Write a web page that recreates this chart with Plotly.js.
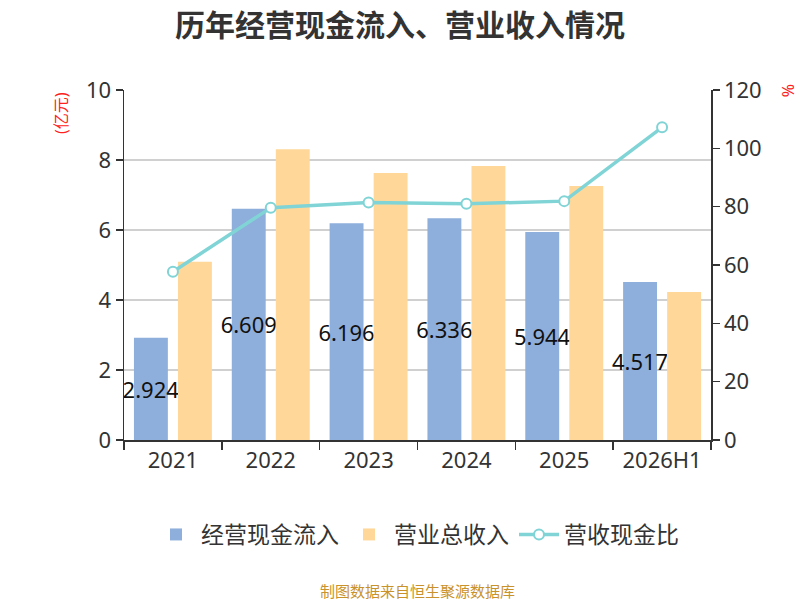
<!DOCTYPE html>
<html>
<head>
<meta charset="utf-8">
<script src="https://cdn.plot.ly/plotly-3.0.1.min.js"></script>
<style>
  body { margin: 0; background: #fff; }
  #chart { width: 800px; height: 600px; }
</style>
</head>
<body>
<div id="chart"></div>
<script>
// values
var years = ['2021', '2022', '2023', '2024', '2025', '2026H1'];
var cashIn = [2.924, 6.609, 6.196, 6.336, 5.944, 4.517];     // 亿元
var revenue = [5.09, 8.31, 7.63, 7.83, 7.26, 4.23];          // 亿元
var ratio = [57.7, 79.6, 81.4, 81.0, 81.9, 107.2];           // %

var blue = '#8eaedb';
var orange = '#ffd899';
var teal = '#80d4d6';
var fontFam = '"Noto Sans", "Noto Sans CJK SC", sans-serif';

var cashTrace = {
    x: years, y: cashIn,
    name: '经营现金流入',
    type: 'bar',
    marker: {color: blue},
    text: cashIn.map(function (v) { return v.toFixed(3) }),
    textposition: 'inside',
    insidetextanchor: 'middle',
    constraintext: 'none',
    textangle: 0,
    insidetextfont: {size: 22, color: '#111', family: fontFam},
    hoverinfo: 'none'
};

var revTrace = {
    x: years, y: revenue,
    name: '营业总收入',
    type: 'bar',
    marker: {color: orange},
    hoverinfo: 'none'
};

var ratioTrace = {
    x: years, y: ratio,
    name: '营收现金比',
    type: 'scatter',
    mode: 'lines+markers',
    yaxis: 'y2',
    line: {color: teal, width: 3.5},
    marker: {color: '#fff', size: 10, line: {color: teal, width: 2}},
    hoverinfo: 'none'
};

var layout = {
    width: 800, height: 600,
    margin: {l: 124, r: 89, t: 90, b: 160},
    paper_bgcolor: '#fff', plot_bgcolor: '#fff',
    font: {family: fontFam, color: '#333'},
    title: {
        text: '<b>历年经营现金流入、营业收入情况</b>',
        font: {size: 30, color: '#333', family: '"Noto Sans CJK SC", sans-serif'},
        x: 0.5, xanchor: 'center', y: 0.958, yanchor: 'middle'
    },
    barmode: 'group',
    bargap: 0.1,
    bargroupgap: 0.23,
    showlegend: true,
    legend: {
        orientation: 'h', x: 0.5, xanchor: 'center', y: -0.27, yanchor: 'middle',
        font: {size: 23, color: '#333'},
        itemwidth: 40
    },
    xaxis: {
        type: 'category',
        showline: true, linecolor: '#333', linewidth: 1.5,
        ticks: 'outside', tickson: 'boundaries', ticklen: 8, tickcolor: '#333', tickwidth: 1.5,
        tickfont: {size: 22, color: '#333'},
        showgrid: false
    },
    yaxis: {
        range: [0, 10], dtick: 2,
        showline: true, linecolor: '#333', linewidth: 1.5,
        ticks: 'outside', ticklen: 7, tickcolor: '#333', tickwidth: 1.5,
        tickfont: {size: 22, color: '#333'},
        gridcolor: '#d0d0d0', gridwidth: 1.5,
        zeroline: false
    },
    yaxis2: {
        overlaying: 'y', side: 'right',
        range: [0, 120], dtick: 20,
        showline: true, linecolor: '#333', linewidth: 1.5,
        ticks: 'outside', ticklen: 7, tickcolor: '#333', tickwidth: 1.5,
        tickfont: {size: 22, color: '#333'},
        showgrid: false, zeroline: false
    },
    annotations: [
        {
            text: '(亿元)', xref: 'paper', yref: 'paper',
            x: -0.107, y: 0.935, xanchor: 'center', yanchor: 'middle',
            textangle: -90, showarrow: false,
            font: {size: 16, color: '#ff2020'}
        },
        {
            text: '%', xref: 'paper', yref: 'paper',
            x: 1.13, y: 0.999, xanchor: 'center', yanchor: 'middle',
            textangle: 90, showarrow: false,
            font: {size: 16, color: '#ff2020'}
        },
        {
            text: '制图数据来自恒生聚源数据库', xref: 'paper', yref: 'paper',
            x: 0.5, y: -0.43, xanchor: 'center', yanchor: 'middle',
            showarrow: false,
            font: {size: 15, color: '#c9922a'}
        }
    ]
};

Plotly.newPlot(document.getElementById('chart'), [cashTrace, revTrace, ratioTrace], layout,
    {displayModeBar: false, staticPlot: true});
</script>
</body>
</html>
